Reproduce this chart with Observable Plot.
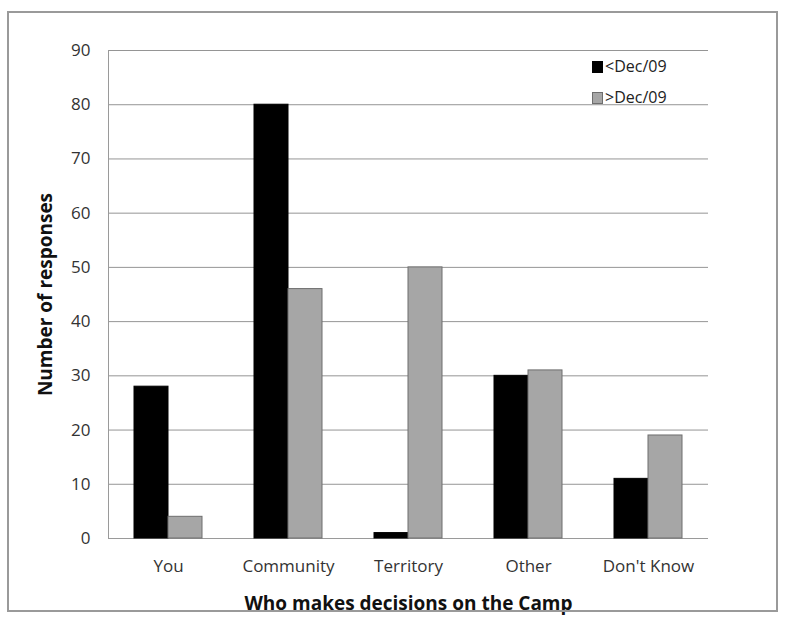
<!DOCTYPE html>
<html>
<head>
<meta charset="utf-8">
<script src="https://cdn.jsdelivr.net/npm/d3@7"></script>
<script src="https://cdn.jsdelivr.net/npm/@observablehq/plot@0.6"></script>
<style>
  html, body { margin: 0; padding: 0; background: #fff; }
  #wrap { position: relative; width: 787px; height: 619px; overflow: hidden; font-family: "Open Sans", "Liberation Sans", sans-serif; }
  #border { position: absolute; left: 7px; top: 11px; width: 771px; height: 601px; border: 2px solid #9a9a9a; box-sizing: border-box; pointer-events: none; }
  #legend { position: absolute; left: 592px; top: 51px; font-size: 16px; color: #222; line-height: 31px; }
  #legend .row { display: flex; align-items: center; }
  #legend .sw { width: 11px; height: 12px; margin-right: 2px; box-sizing: border-box; }
</style>
</head>
<body>
<div id="wrap"><div id="chart"></div><div id="border"></div><div id="legend"></div></div>
<script>
const categories = ["You", "Community", "Territory", "Other", "Don't Know"];
const series = ["<Dec/09", ">Dec/09"];
const before = [28, 80, 1, 30, 11];
const after = [4, 46, 50, 31, 19];
const yTicks = [0, 10, 20, 30, 40, 50, 60, 70, 80, 90];
const colors = ["#000000", "#a6a6a6"];
const strokes = ["#000000", "#6e6e6e"];

const data = [];
categories.forEach((c, i) => {
  data.push({cat: c, series: series[0], value: before[i]});
  data.push({cat: c, series: series[1], value: after[i]});
});

const chart = Plot.plot({
  width: 787,
  height: 619,
  marginLeft: 106,
  marginRight: 77,
  marginTop: 50,
  marginBottom: 81,
  style: {fontFamily: "'Open Sans', 'Liberation Sans', sans-serif", fontSize: "14px", color: "#222", background: "transparent"},
  fx: {domain: categories, padding: 0, label: null},
  x: {domain: series, paddingInner: 0, paddingOuter: 0.73, axis: null},
  y: {domain: [0, 90], label: null},
  color: {domain: series, range: colors},
  marks: [
    Plot.gridY(yTicks, {stroke: "#7a7a7a", strokeOpacity: 0.8}),
    Plot.frame({anchor: "left", facetAnchor: "left", stroke: "#9a9a9a"}),
    Plot.ruleY([0], {stroke: "#9a9a9a"}),
    Plot.barY(data, {fx: "cat", x: "series", y: "value", fill: "series", stroke: d => d.series === series[1] ? strokes[1] : strokes[0], strokeWidth: 1}),
    Plot.axisY({ticks: yTicks, tickSize: 0, tickPadding: 18, label: null, fontSize: 17, fill: "#333"}),
    Plot.axisY({ticks: [], tickSize: 0, label: "Number of responses", labelAnchor: "center", labelOffset: 70, labelArrow: "none", fontSize: 19, fontWeight: "bold", fill: "#111"}),
    Plot.axisFx({anchor: "bottom", tickSize: 0, tickPadding: 21, label: null, fontSize: 17, fill: "#333"}),
    Plot.axisFx({anchor: "bottom", ticks: [], tickSize: 0, label: "Who makes decisions on the Camp", labelAnchor: "center", labelOffset: 71, labelArrow: "none", fontSize: 19, fontWeight: "bold", fill: "#111"})
  ]
});
document.getElementById("chart").appendChild(chart);

const legend = document.getElementById("legend");
series.forEach((s, i) => {
  const row = document.createElement("div");
  row.className = "row";
  const sw = document.createElement("span");
  sw.className = "sw";
  sw.style.background = colors[i];
  sw.style.border = "1px solid " + strokes[i];
  const t = document.createElement("span");
  t.textContent = s;
  row.appendChild(sw);
  row.appendChild(t);
  legend.appendChild(row);
});
</script>
</body>
</html>
